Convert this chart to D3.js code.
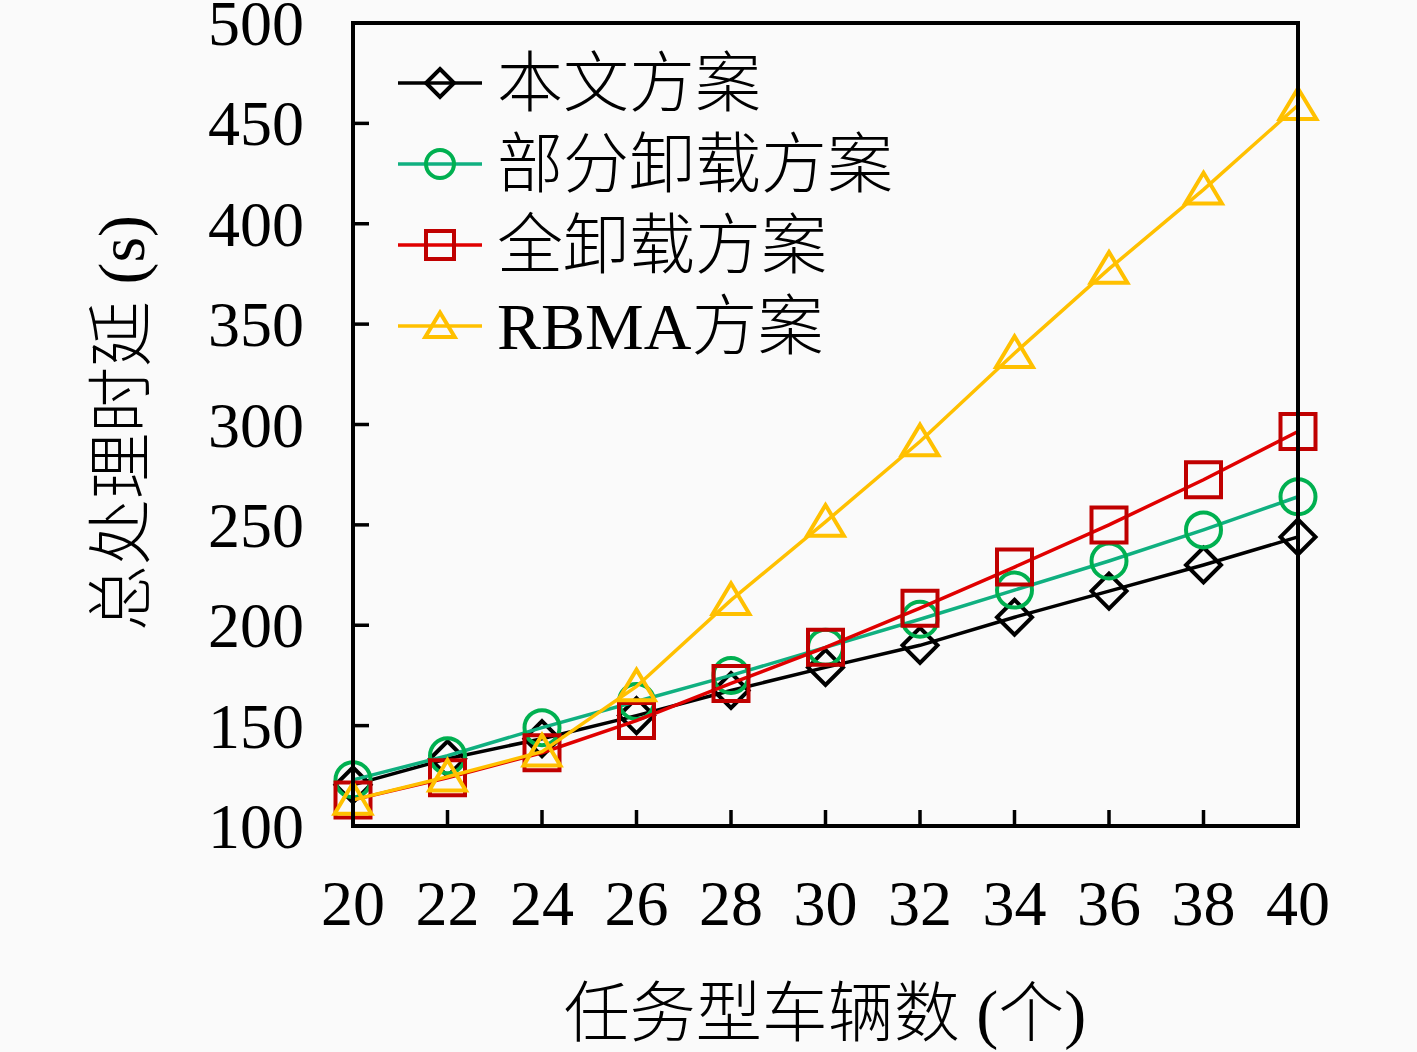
<!DOCTYPE html>
<html>
<head>
<meta charset="utf-8">
<script src="https://cdn.jsdelivr.net/npm/d3@7"></script>
<style>
  html, body { margin: 0; padding: 0; background: #fafafa; }
  svg { display: block; }
</style>
</head>
<body>
<svg id="main-svg" width="1417" height="1052"></svg>
<script>
// ----- //
// data
// ----- //
const vehicles = [20, 22, 24, 26, 28, 30, 32, 34, 36, 38, 40];
const ours     = [120.5, 133.5, 143.5, 155, 167.5, 179, 190, 204, 217, 230, 244];
const partial  = [123, 135, 149, 162, 175, 189, 203, 217.5, 232, 247.5, 264];
const full     = [113, 124, 136.5, 152.5, 171, 189, 208.5, 229, 250, 272.5, 296.5];
const rbma     = [113, 124.5, 137, 169.5, 212.5, 251.5, 291.5, 335.5, 377.5, 417, 459];

const seriesNames  = ["本文方案", "部分卸载方案", "全卸载方案", "RBMA方案"];
const seriesValues = [ours, partial, full, rbma];
const seriesColors = ["#000000", "#00b050", "#c00000", "#ffc000"];
const lineColors   = ["#000000", "#10b080", "#e00000", "#ffc000"];
const seriesShapes = ["diamond", "circle", "square", "triangle"];

const xTicks = [20, 22, 24, 26, 28, 30, 32, 34, 36, 38, 40];
const yTicks = [100, 150, 200, 250, 300, 350, 400, 450, 500];

// ----- //
// layout
// ----- //
const plotLeft = 353, plotRight = 1298, plotTop = 23, plotBottom = 826;
const serif = "'Liberation Serif', 'DejaVu Serif', serif";
const mixed = "'Liberation Serif', 'Noto Sans CJK SC', serif";

const x = d3.scaleLinear().domain([20, 40]).range([plotLeft, plotRight]);
const y = d3.scaleLinear().domain([100, 500]).range([plotBottom, plotTop]);

const svg = d3.select("#main-svg");

// marker path centred at (cx, cy), r = half size
function markerPath(shape, cx, cy, r) {
    const p = d3.path();
    if (shape === "diamond") {
        p.moveTo(cx, cy - r); p.lineTo(cx + r, cy); p.lineTo(cx, cy + r); p.lineTo(cx - r, cy); p.closePath();
    } else if (shape === "circle") {
        p.moveTo(cx + r, cy); p.arc(cx, cy, r, 0, 2 * Math.PI);
    } else if (shape === "square") {
        p.rect(cx - r, cy - r, 2 * r, 2 * r);
    } else {
        const h = r * 1.75;
        p.moveTo(cx, cy - h * 0.55); p.lineTo(cx + r * 1.05, cy + h * 0.45); p.lineTo(cx - r * 1.05, cy + h * 0.45); p.closePath();
    }
    return p.toString();
}

// ----- //
// series lines and markers
// ----- //
const line = d3.line().x(d => x(d[0])).y(d => y(d[1]));

seriesValues.forEach((vals, i) => {
    const pts = vehicles.map((v, j) => [v, vals[j]]);
    const g = svg.append("g");
    g.append("path")
        .attr("d", line(pts))
        .attr("fill", "none")
        .attr("stroke", lineColors[i])
        .attr("stroke-width", 3.5);
    g.selectAll("path.mk")
        .data(pts)
        .enter()
        .append("path")
        .attr("class", "mk")
        .attr("d", d => markerPath(seriesShapes[i], x(d[0]), y(d[1]), 17.5))
        .attr("fill", "none")
        .attr("stroke", seriesColors[i])
        .attr("stroke-width", 4);
});

// ----- //
// frame and ticks
// ----- //
svg.append("rect")
    .attr("x", plotLeft).attr("y", plotTop)
    .attr("width", plotRight - plotLeft).attr("height", plotBottom - plotTop)
    .attr("fill", "none").attr("stroke", "#000").attr("stroke-width", 4);

svg.selectAll(".xtick")
    .data(xTicks.slice(1, -1))
    .enter()
    .append("line")
    .attr("x1", d => x(d)).attr("x2", d => x(d))
    .attr("y1", plotBottom).attr("y2", plotBottom - 16)
    .attr("stroke", "#000").attr("stroke-width", 3.5);

svg.selectAll(".ytick")
    .data(yTicks.slice(1, -1))
    .enter()
    .append("line")
    .attr("x1", plotLeft).attr("x2", plotLeft + 16)
    .attr("y1", d => y(d)).attr("y2", d => y(d))
    .attr("stroke", "#000").attr("stroke-width", 3.5);

svg.selectAll(".xlab")
    .data(xTicks)
    .enter()
    .append("text")
    .attr("x", d => x(d))
    .attr("y", 925)
    .attr("text-anchor", "middle")
    .attr("font-family", serif)
    .attr("font-size", 64)
    .text(d => d);

svg.selectAll(".ylab")
    .data(yTicks)
    .enter()
    .append("text")
    .attr("x", 304)
    .attr("y", d => y(d) + 22)
    .attr("text-anchor", "end")
    .attr("font-family", serif)
    .attr("font-size", 64)
    .text(d => d);

// axis titles
svg.append("text")
    .attr("x", 825).attr("y", 1036)
    .attr("text-anchor", "middle")
    .attr("font-family", mixed)
    .attr("font-weight", 300)
    .attr("font-size", 66)
    .text("任务型车辆数 (个)");

svg.append("text")
    .attr("transform", "translate(144,423) rotate(-90)")
    .attr("text-anchor", "middle")
    .attr("font-family", mixed)
    .attr("font-weight", 300)
    .attr("font-size", 66)
    .text("总处理时延 (s)");

// ----- //
// legend
// ----- //
const legendY = [83, 164, 245, 326];
seriesNames.forEach((name, i) => {
    const ly = legendY[i];
    svg.append("line")
        .attr("x1", 398).attr("x2", 482)
        .attr("y1", ly).attr("y2", ly)
        .attr("stroke", lineColors[i]).attr("stroke-width", 3.5);
    svg.append("path")
        .attr("d", markerPath(seriesShapes[i], 440, ly, 14))
        .attr("fill", "none")
        .attr("stroke", seriesColors[i]).attr("stroke-width", 4);
    svg.append("text")
        .attr("x", 497).attr("y", ly + 23)
        .attr("font-family", mixed)
        .attr("font-weight", 300)
        .attr("font-size", 66)
        .text(name);
});
</script>
</body>
</html>
